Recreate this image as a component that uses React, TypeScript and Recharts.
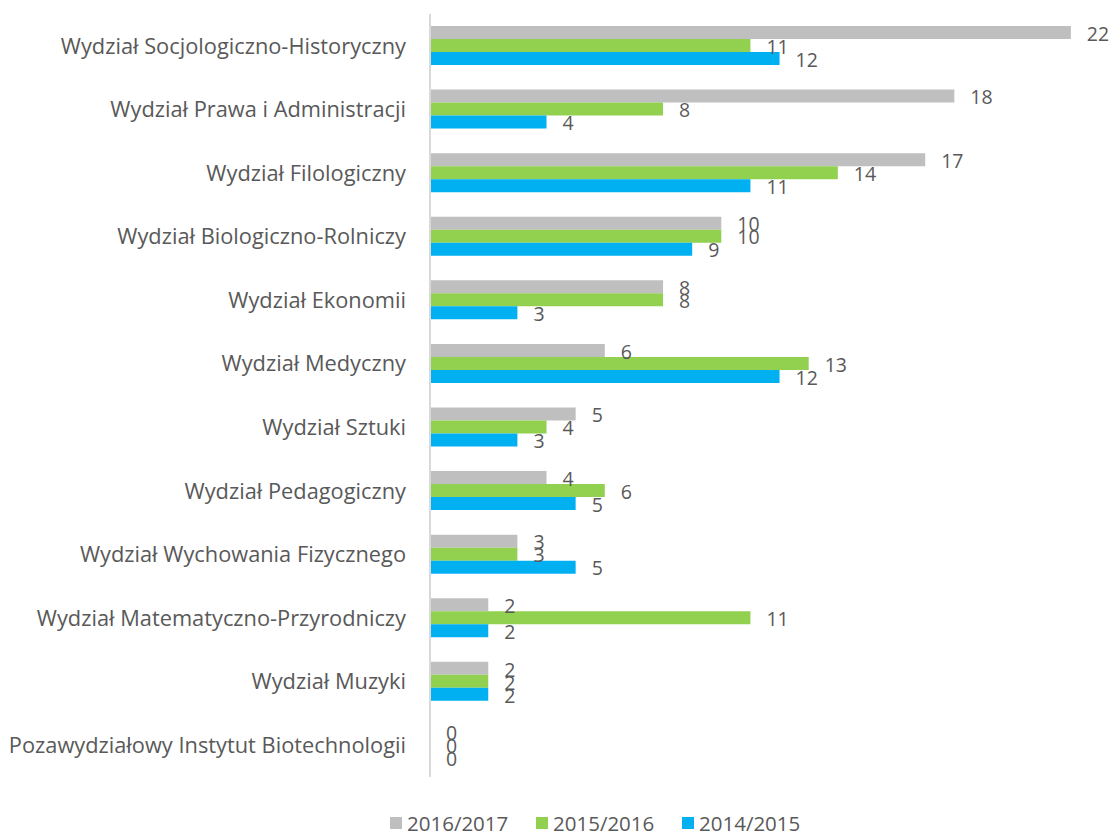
import React from "react";
import { BarChart, Bar, XAxis, YAxis, Legend, LabelList } from "recharts";

const categories = [
  "Wydział Socjologiczno-Historyczny",
  "Wydział Prawa i Administracji",
  "Wydział Filologiczny",
  "Wydział Biologiczno-Rolniczy",
  "Wydział Ekonomii",
  "Wydział Medyczny",
  "Wydział Sztuki",
  "Wydział Pedagogiczny",
  "Wydział Wychowania Fizycznego",
  "Wydział Matematyczno-Przyrodniczy",
  "Wydział Muzyki",
  "Pozawydziałowy Instytut Biotechnologii",
];
const s2016 = [22, 18, 17, 10, 8, 6, 5, 4, 3, 2, 2, 0];
const s2015 = [11, 8, 14, 10, 8, 13, 4, 6, 3, 11, 2, 0];
const s2014 = [12, 4, 11, 9, 3, 12, 3, 5, 5, 2, 2, 0];
const seriesNames = ["2016/2017", "2015/2016", "2014/2015"];
const colors = ["#BFBFBF", "#92D050", "#00B0F0"];

const data = categories.map((c, i) => ({
  name: c,
  a: s2016[i],
  b: s2015[i],
  c: s2014[i],
}));

const FONT = "'Open Sans', sans-serif";
const TEXT = "#595959";

const renderLabel = (props: any) => {
  const { x, y, width, height, value } = props;
  const w = Number(width) || 0;
  const bx = Number(x) + (w < 0.5 ? 0 : w);
  const cy = Number(y) + Number(height) / 2;
  return (
    <text
      x={bx + 16}
      y={cy + 3}
      fill={TEXT}
      fontSize={19.5}
      fontFamily={FONT}
      textAnchor="start"
      dominantBaseline="middle"
    >
      {String(value)}
    </text>
  );
};

const LegendContent = () => (
  <div
    style={{
      display: "flex",
      justifyContent: "flex-start",
      paddingLeft: 390,
      fontFamily: FONT,
      fontSize: 20.5,
      color: TEXT,
      lineHeight: "28px",
      height: 28,
    }}
  >
    {seriesNames.map((n, i) => (
      <div key={n} style={{ display: "flex", alignItems: "center", width: 146 }}>
        <span
          style={{
            display: "inline-block",
            width: 12,
            height: 12,
            background: colors[i],
            marginRight: 5,
          }}
        />
        <span>{n}</span>
      </div>
    ))}
  </div>
);

const minSize = (v: any) => (Number(v) === 0 ? 0.01 : 0);

export default function App() {
  return (
    <div style={{ position: "relative", width: 1113, height: 837 }}>
      <style>{"body{margin:0;background:#fff}"}</style>
      <BarChart
        width={1113}
        height={837}
        data={data}
        layout="vertical"
        margin={{ top: 14, right: 13, bottom: 32, left: 0 }}
        barCategoryGap={12}
        barGap={0}
      >
        <XAxis type="number" domain={[0, 23]} hide />
        <YAxis
          type="category"
          dataKey="name"
          width={430}
          tickLine={false}
          tickSize={0}
          tickMargin={24}
          axisLine={{ stroke: "#D9D9D9", strokeWidth: 2 }}
          tick={{ fill: TEXT, fontSize: 21.8, fontFamily: FONT }}
          interval={0}
        />
        <Legend
          verticalAlign="bottom"
          content={<LegendContent />}
          wrapperStyle={{ position: "absolute", top: 809, left: 0, width: 1113, bottom: "auto" }}
        />
        <Bar dataKey="a" name={seriesNames[0]} fill={colors[0]} minPointSize={minSize} isAnimationActive={false}>
          <LabelList dataKey="a" content={renderLabel} />
        </Bar>
        <Bar dataKey="b" name={seriesNames[1]} fill={colors[1]} minPointSize={minSize} isAnimationActive={false}>
          <LabelList dataKey="b" content={renderLabel} />
        </Bar>
        <Bar dataKey="c" name={seriesNames[2]} fill={colors[2]} minPointSize={minSize} isAnimationActive={false}>
          <LabelList dataKey="c" content={renderLabel} />
        </Bar>
      </BarChart>
    </div>
  );
}
